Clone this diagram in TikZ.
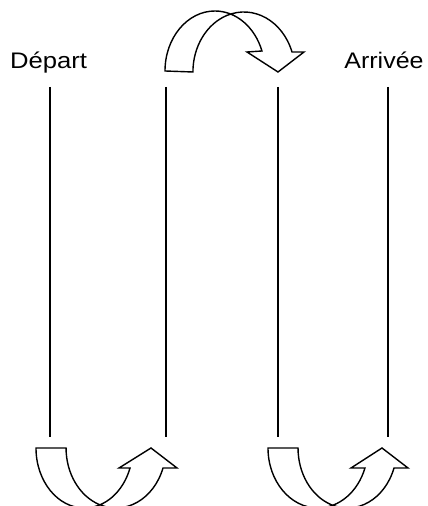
\documentclass[tikz,border=0pt]{standalone}
\usepackage{fontspec}
\setmainfont{Liberation Sans}
\begin{document}
\begin{tikzpicture}[x=1pt,y=1pt,
  bar/.style={line width=1.5pt},
  band/.style={line width=1.4pt, fill=white, line join=miter},
  lbl/.style={font=\fontsize{22.5}{26}\selectfont, inner sep=0pt, anchor=base}]
\useasboundingbox (0,0) rectangle (428,506);
\clip (0,0) rectangle (428,506);
% labels
\node[lbl] (dep) at (48.5,437.7) {\scalebox{1.14}[1]{Départ}};
\node[lbl] (arr) at (384,437.7) {\scalebox{1.11}[1]{Arrivée}};
% vertical lines
\coordinate (l1t) at (50,419);  \coordinate (l1b) at (50,69);
\coordinate (l2t) at (166,419); \coordinate (l2b) at (166,69);
\coordinate (l3t) at (278,419); \coordinate (l3b) at (278,69);
\coordinate (l4t) at (388,419); \coordinate (l4b) at (388,69);
\draw[bar] (l1t) -- (l1b);
\draw[bar] (l2t) -- (l2b);
\draw[bar] (l3t) -- (l3b);
\draw[bar] (l4t) -- (l4b);
% top curved arrow
\draw[band] (165,435) arc[start angle=180, end angle=19.47, x radius=49.9, y radius=60]
  -- (247,454) -- (278,434) -- (304,454) -- (292,454)
  arc[start angle=19.47, end angle=180, x radius=51, y radius=60] -- cycle;
% bottom left curved arrow
\draw[band] (36,58) arc[start angle=180, end angle=340.53, x radius=48.4, y radius=60]
  -- (119,38) -- (151,58) -- (177,38) -- (163,38)
  arc[start angle=340.53, end angle=180, x radius=49.9, y radius=60] -- cycle;
% bottom right curved arrow
\draw[band] (268,58) arc[start angle=180, end angle=340.53, x radius=49.9, y radius=60]
  -- (351,38) -- (382,58) -- (408,38) -- (394,38)
  arc[start angle=340.53, end angle=180, x radius=49.4, y radius=60] -- cycle;
\end{tikzpicture}
\end{document}
